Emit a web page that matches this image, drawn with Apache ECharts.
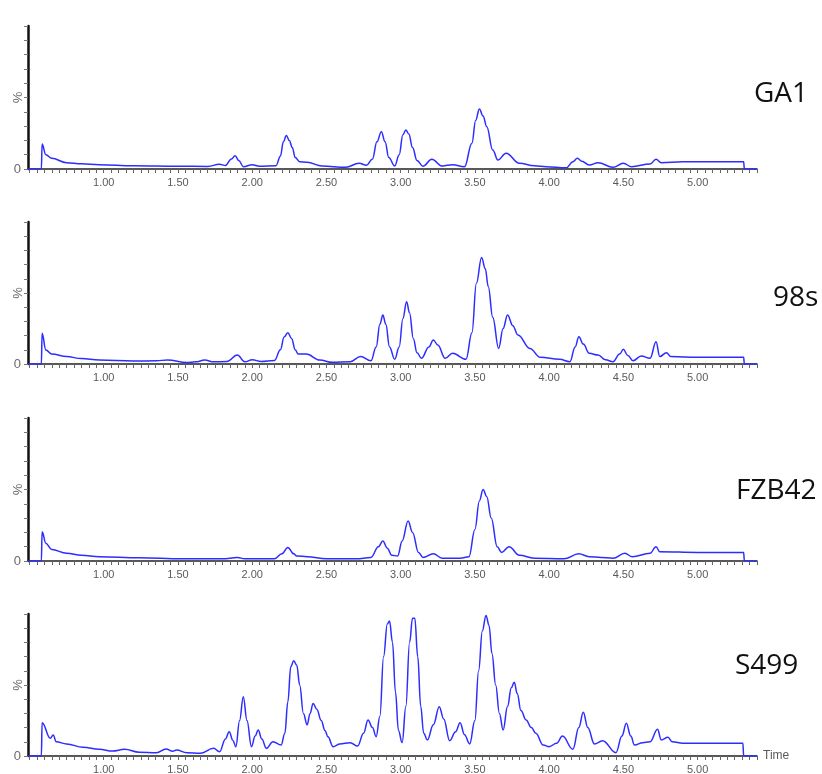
<!DOCTYPE html>
<html>
<head>
<meta charset="utf-8">
<script src="https://cdn.jsdelivr.net/npm/echarts@6/dist/echarts.min.js"></script>
<style>html,body{margin:0;padding:0;background:#fff;}#c{width:822px;height:774px;}</style>
</head>
<body>
<div id="c"></div>
<script>
// ---- data: [time (min), relative intensity (%)] ----
const sampleNames = ['GA1', '98s', 'FZB42', 'S499'];
const xTickLabels = [1.00, 1.50, 2.00, 2.50, 3.00, 3.50, 4.00, 4.50, 5.00];
const yTickValues = [0, 10, 20, 30, 40, 50, 60, 70, 80, 90, 100];

const ga1 = [[0.49,0],[0.58,0],[0.585,17.5],[0.61,10],[0.65,7.5],[0.75,4.4],[0.85,3.6],[0.97,3.0],[1.2,2.3],[1.5,1.9],[1.7,1.8],[1.78,3.3],[1.82,2.5],[1.86,7],[1.885,9.3],[1.91,6],[1.94,1.6],[2.0,3],[2.05,2],[2.16,2.3],[2.19,9],[2.21,19],[2.23,23.5],[2.25,20],[2.27,15],[2.29,8],[2.32,5],[2.37,4.7],[2.47,2.1],[2.63,1.2],[2.72,4],[2.77,2.6],[2.81,7],[2.84,19],[2.87,26],[2.895,19],[2.92,8],[2.96,2.1],[2.99,10],[3.015,24],[3.035,27.3],[3.055,24.5],[3.08,15],[3.11,6],[3.15,2],[3.21,6.8],[3.28,2.1],[3.35,3],[3.43,1.6],[3.48,18],[3.505,34],[3.53,42],[3.555,37],[3.58,29.6],[3.62,13.3],[3.655,6.3],[3.71,11],[3.80,4],[3.9,2.2],[3.98,1.6],[4.115,0.8],[4.16,5],[4.19,7.5],[4.22,5.5],[4.27,2.8],[4.33,4.4],[4.43,1.2],[4.50,4],[4.555,1.6],[4.68,3.5],[4.72,6.8],[4.755,4.4],[4.9,5],[5.1,5],[5.31,5],[5.315,0],[5.40,0]];

const s98 = [[0.49,0],[0.58,0],[0.585,21.6],[0.61,9.9],[0.65,7],[0.75,5.2],[0.85,3.8],[0.97,2.8],[1.2,2.1],[1.355,2.3],[1.43,2.8],[1.56,1],[1.62,1.5],[1.68,2.8],[1.74,1.5],[1.83,1.8],[1.9,6.3],[1.95,1.5],[2.0,3],[2.06,1.8],[2.15,2.5],[2.19,10],[2.215,19],[2.24,22],[2.265,18],[2.29,10],[2.31,7],[2.365,7],[2.455,2.8],[2.54,1.2],[2.66,1.6],[2.73,5.2],[2.80,2.3],[2.835,12],[2.86,28],[2.88,34.5],[2.9,28],[2.925,12],[2.96,3.3],[2.99,12],[3.015,32],[3.04,43.9],[3.06,36],[3.085,18],[3.11,8],[3.14,4],[3.19,12],[3.22,16.9],[3.25,13.4],[3.30,4],[3.35,7.5],[3.44,3.3],[3.48,22],[3.51,56.8],[3.545,75],[3.57,67],[3.59,54.5],[3.62,33],[3.66,11],[3.69,25],[3.72,34.5],[3.755,27],[3.79,20.4],[3.87,11],[3.94,4.7],[4.07,3.3],[4.14,1.6],[4.175,12],[4.20,19.2],[4.23,14],[4.27,7.5],[4.33,6.3],[4.38,3],[4.43,1.6],[4.475,7],[4.50,10.3],[4.53,6],[4.565,2.3],[4.62,5.6],[4.68,4],[4.72,15.7],[4.745,5.2],[4.79,8],[4.82,5.2],[5.0,4.7],[5.31,4.7],[5.315,0],[5.40,0]];

const fzb42 = [[0.49,0],[0.58,0],[0.585,20.5],[0.61,12.4],[0.65,8],[0.75,5.4],[0.85,4],[0.97,3],[1.24,2.3],[1.53,1.6],[1.8,1.5],[1.9,2.5],[1.95,1.5],[2.15,1.5],[2.2,5],[2.24,9.5],[2.28,5],[2.3,3.5],[2.37,3],[2.5,1.5],[2.7,1.5],[2.8,2.5],[2.85,10],[2.88,14],[2.91,9],[2.94,4],[2.98,3.5],[3.01,14],[3.05,28],[3.08,20],[3.12,6],[3.15,2.5],[3.22,5],[3.28,2],[3.4,2],[3.46,3],[3.5,22],[3.53,42],[3.555,50],[3.58,45],[3.61,30],[3.65,10],[3.68,6],[3.73,10],[3.8,4],[3.9,2],[4.1,1.5],[4.2,5],[4.27,3],[4.35,2.5],[4.43,1.9],[4.51,5.4],[4.56,3],[4.68,5.4],[4.72,10],[4.745,6.5],[5.0,6],[5.31,6],[5.315,0],[5.40,0]];

const s499 = [[0.49,0],[0.58,0],[0.585,23.5],[0.64,12.5],[0.66,14.8],[0.68,10],[0.75,8.5],[0.86,6.1],[0.97,4.7],[1.06,3.5],[1.14,4.7],[1.24,2.6],[1.355,2.3],[1.42,4.9],[1.465,3.3],[1.49,4.2],[1.56,2.3],[1.65,1.9],[1.74,5.4],[1.78,3],[1.82,12],[1.845,17.1],[1.87,11],[1.89,6.6],[1.915,25],[1.94,41.8],[1.965,25],[1.995,6.6],[2.02,14],[2.04,18.3],[2.065,12],[2.095,5.4],[2.14,10],[2.195,7.7],[2.22,16],[2.24,38],[2.26,63],[2.28,67],[2.30,64],[2.32,50],[2.345,30],[2.37,22],[2.39,30],[2.41,37],[2.435,33],[2.465,25],[2.49,18],[2.51,13.6],[2.545,6.6],[2.59,8.5],[2.66,9.4],[2.71,7],[2.75,16],[2.78,25.4],[2.81,20],[2.835,13.6],[2.86,28],[2.885,70],[2.91,93],[2.925,95],[2.945,80],[2.965,45],[2.985,18],[3.01,9.4],[3.035,35],[3.06,80],[3.08,97],[3.095,97],[3.115,70],[3.135,35],[3.155,16],[3.18,11.3],[3.22,22],[3.26,34.7],[3.29,26],[3.33,10.8],[3.37,17],[3.40,23.5],[3.43,15],[3.465,8.5],[3.50,25],[3.525,60],[3.55,88],[3.575,99],[3.595,92],[3.615,72],[3.64,50],[3.665,30],[3.69,18.3],[3.72,35],[3.745,48],[3.765,52],[3.785,44],[3.81,32],[3.845,25.4],[3.88,20],[3.91,16],[3.96,7.7],[4.0,6.6],[4.05,8.9],[4.09,14],[4.16,4.7],[4.2,20],[4.23,30.8],[4.26,20],[4.305,8.5],[4.36,10.8],[4.45,2.3],[4.49,14],[4.52,23],[4.55,14],[4.575,7.7],[4.63,9.4],[4.68,10],[4.73,18.8],[4.755,11.3],[4.80,13.2],[4.83,10],[4.9,8.9],[5.305,8.9],[5.31,0],[5.40,0]];

const traces = [ga1, s98, fzb42, s499];

// ---- layout ----
const X_MIN = 0.49, X_MAX = 5.40;
const gridTops = [26, 222, 418, 614];
const gridHeights = [143, 142, 143, 142];
const labelPos = [[754, 94], [773, 298], [736, 491], [735, 666]];

const minorTicks = [];
for (let k = 10; k <= 108; k++) minorTicks.push(+(k * 0.05).toFixed(2));

const grids = [], xAxes = [], yAxes = [], series = [], graphics = [];
traces.forEach((d, i) => {
  grids.push({ left: 28, right: 65, top: gridTops[i], height: gridHeights[i], containLabel: false, outerBoundsMode: 'none' });
  xAxes.push({
    type: 'value', gridIndex: i, min: X_MIN, max: X_MAX,
    axisLine: { show: true, onZero: false, lineStyle: { color: '#222', width: 1.5 } },
    axisTick: { show: true, customValues: minorTicks, length: 4, lineStyle: { color: '#666' } },
    axisLabel: { customValues: xTickLabels, formatter: v => v.toFixed(2), color: '#5a5a5a', fontSize: 11, fontFamily: 'Liberation Sans, Arial', margin: 8 },
    splitLine: { show: false },
    name: i === 3 ? 'Time' : '', nameLocation: 'end', nameGap: 6, nameMoveOverlap: false,
    nameTextStyle: { color: '#5a5a5a', fontSize: 12, fontFamily: 'Liberation Sans, Arial' }
  });
  yAxes.push({
    type: 'value', gridIndex: i, min: 0, max: 100,
    axisLine: { show: true, lineStyle: { color: '#111', width: 2.5 } },
    axisTick: { show: true, customValues: yTickValues, length: 4, lineStyle: { color: '#777' } },
    axisLabel: { customValues: [0], color: '#6a6a6a', fontSize: 13, fontFamily: 'Liberation Sans, Arial', margin: 7 },
    splitLine: { show: false },
    name: '%', nameLocation: 'middle', nameGap: 3, nameRotate: 90, nameMoveOverlap: false,
    nameTextStyle: { color: '#6a6a6a', fontSize: 13, fontFamily: 'Liberation Sans, Arial' }
  });
  series.push({
    type: 'line', xAxisIndex: i, yAxisIndex: i, data: d,
    showSymbol: false, smooth: 0.4, smoothMonotone: 'x',
    lineStyle: { color: '#2d2dff', width: 1.5 }, silent: true, animation: false
  });
  graphics.push({
    type: 'text', x: labelPos[i][0], y: labelPos[i][1],
    style: { text: sampleNames[i], fill: '#111', fontSize: 28, fontFamily: 'Open Sans', verticalAlign: 'middle', align: 'left' }
  });
});

const chart = echarts.init(document.getElementById('c'), null, { renderer: 'canvas' });
chart.setOption({
  animation: false,
  backgroundColor: '#fff',
  grid: grids, xAxis: xAxes, yAxis: yAxes, series: series, graphic: graphics
});
</script>
</body>
</html>
